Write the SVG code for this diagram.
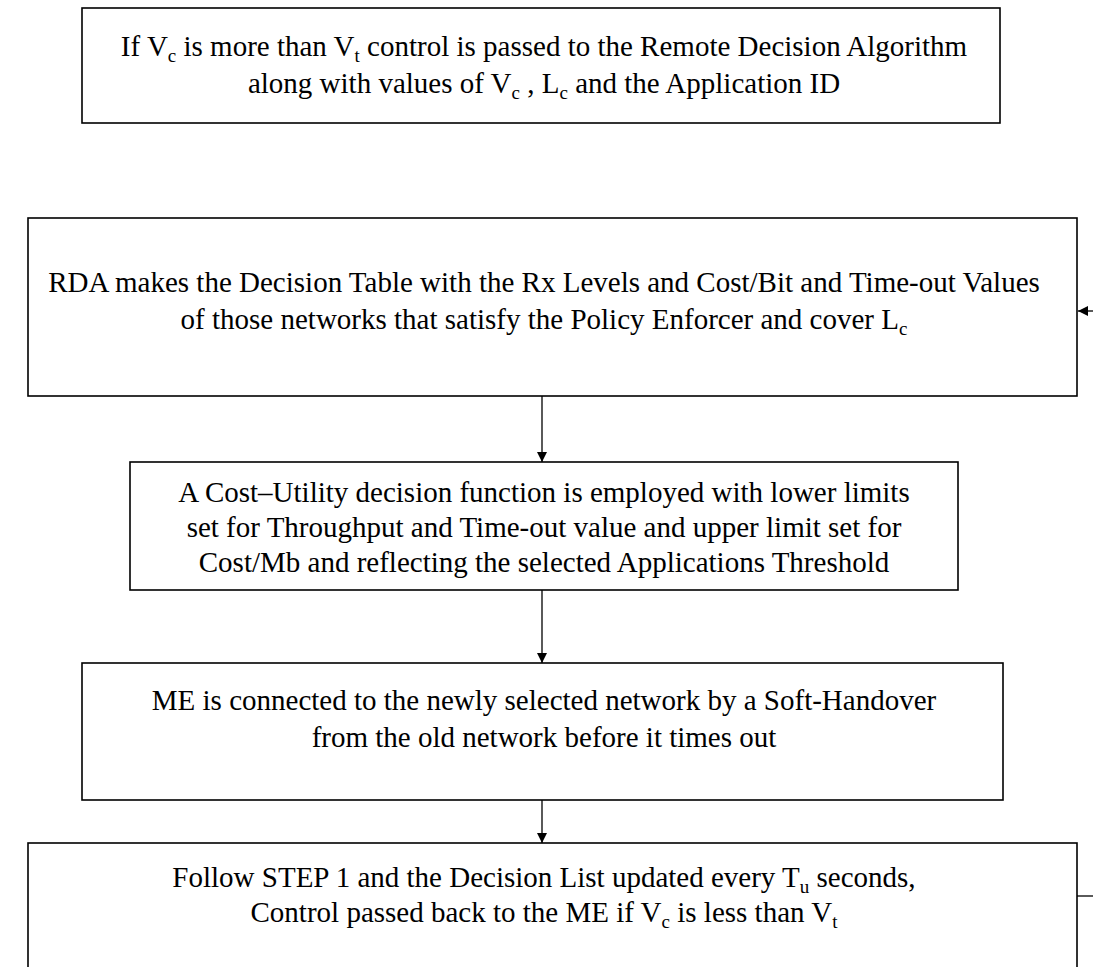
<svg xmlns="http://www.w3.org/2000/svg" width="1093" height="967" viewBox="0 0 1093 967">
  <style>
    .box { fill: #fff; stroke: #000; stroke-width: 1.6; }
    .txt { font-family: "Liberation Serif", "Times New Roman", serif; font-size: 29px; fill: #000; text-anchor: middle; }
    .sub { font-size: 19px; }
    .wire { stroke: #000; stroke-width: 1.3; fill: none; }
  </style>
  <defs>
    <marker id="head" viewBox="0 0 10 12" refX="10" refY="6" markerWidth="10" markerHeight="12" markerUnits="userSpaceOnUse" orient="auto">
      <path d="M0,1 L10,6 L0,11 Z" fill="#000"/>
    </marker>
  </defs>
  <rect width="1093" height="967" fill="#fff"/>

  <g id="step-handoff">
    <rect class="box" x="82" y="8" width="918" height="115"/>
    <text class="txt" x="544" y="56">If V<tspan class="sub" dy="6">c</tspan><tspan dy="-6">  is more than V</tspan><tspan class="sub" dy="6">t</tspan><tspan dy="-6"> control is passed to the Remote Decision Algorithm</tspan></text>
    <text class="txt" x="544" y="93">along with values of V<tspan class="sub" dy="6">c</tspan><tspan dy="-6"> , L</tspan><tspan class="sub" dy="6">c</tspan><tspan dy="-6">  and the Application ID</tspan></text>
  </g>

  <g id="step-decision-table">
    <rect class="box" x="28" y="218" width="1049" height="178"/>
    <text class="txt" x="544" y="292">RDA makes the Decision Table with the Rx Levels and Cost/Bit and Time-out  Values</text>
    <text class="txt" x="544" y="329">of those networks that satisfy the Policy Enforcer and cover L<tspan class="sub" dy="6">c</tspan></text>
  </g>

  <g id="step-cost-utility">
    <rect class="box" x="130" y="462" width="828" height="128"/>
    <text class="txt" x="544" y="502">A  Cost–Utility decision function is employed with  lower limits</text>
    <text class="txt" x="544" y="537">set for Throughput and Time-out value and upper limit set for</text>
    <text class="txt" x="544" y="572">Cost/Mb and reflecting the selected Applications Threshold</text>
  </g>

  <g id="step-soft-handover">
    <rect class="box" x="82" y="663" width="921" height="137"/>
    <text class="txt" x="544" y="710">ME is connected to the newly selected network by a Soft-Handover</text>
    <text class="txt" x="544" y="747">from the old network before it times out</text>
  </g>

  <g id="step-update">
    <rect class="box" x="28" y="843" width="1049" height="130"/>
    <text class="txt" x="544" y="887">Follow STEP 1 and the Decision List updated every T<tspan class="sub" dy="6">u</tspan><tspan dy="-6"> seconds,</tspan></text>
    <text class="txt" x="544" y="922">Control passed back to the ME if V<tspan class="sub" dy="6">c</tspan><tspan dy="-6"> is less than V</tspan><tspan class="sub" dy="6">t</tspan></text>
  </g>

  <g id="connectors">
    <line class="wire" x1="542" y1="396" x2="542" y2="462" marker-end="url(#head)"/>
    <line class="wire" x1="542" y1="590" x2="542" y2="663" marker-end="url(#head)"/>
    <line class="wire" x1="542" y1="800" x2="542" y2="843" marker-end="url(#head)"/>
    <line class="wire" x1="1093" y1="311" x2="1078" y2="311" marker-end="url(#head)"/>
    <line class="wire" x1="1077" y1="896" x2="1093" y2="896"/>
  </g>
</svg>
